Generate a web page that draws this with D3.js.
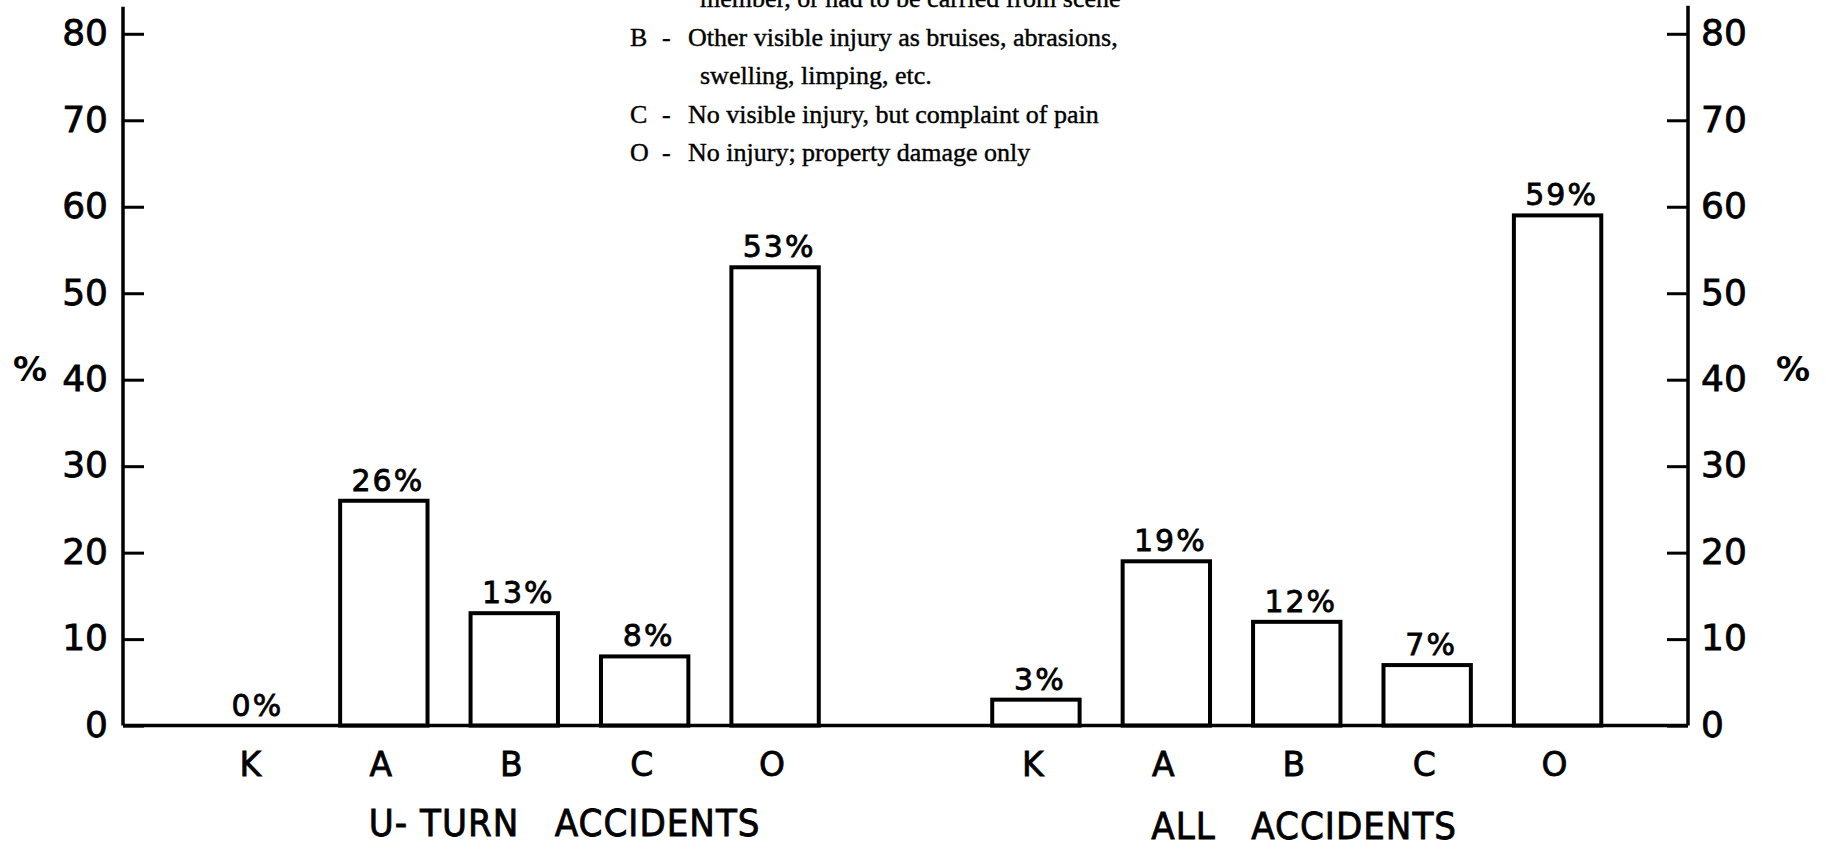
<!DOCTYPE html>
<html>
<head>
<meta charset="utf-8">
<script src="https://cdn.jsdelivr.net/npm/d3@7"></script>
<style>
  body { margin: 0; background: #fff; }
  svg { display: block; }
  .tick text { font-family: "DejaVu Sans", sans-serif; }
</style>
</head>
<body>
<svg id="chart" width="1829" height="846"></svg>
<script>
// injury class per accident group (percent)
var categories = ["K", "A", "B", "C", "O"];
var uturnValues = [0, 26, 13, 8, 53];
var allValues = [3, 19, 12, 7, 59];
var yTicks = [0, 10, 20, 30, 40, 50, 60, 70, 80];
var groupTitles = ["U- TURN   ACCIDENTS", "ALL   ACCIDENTS"];
var legendLines = [
  {key: "",  text: "member, or had to be carried from scene", indent: true},
  {key: "B", text: "Other visible injury as bruises, abrasions,", indent: false},
  {key: "",  text: "swelling, limping, etc.", indent: true},
  {key: "C", text: "No visible injury, but complaint of pain", indent: false},
  {key: "O", text: "No injury; property damage only", indent: false}
];

var svg = d3.select("#chart");

// 11 slots: 5 u-turn bars, one empty slot, 5 all-accident bars
var slots = categories.map(function(c) { return "u" + c; })
  .concat(["gap"])
  .concat(categories.map(function(c) { return "a" + c; }));

var x = d3.scalePoint().domain(slots).range([123, 1688]).padding(1);
var y = d3.scaleLinear().domain([0, 80]).range([725.6, 33.8]);
var barW = x.step() * 0.67;

var bars = categories.map(function(c, i) { return {slot: "u" + c, cat: c, val: uturnValues[i]}; })
  .concat(categories.map(function(c, i) { return {slot: "a" + c, cat: c, val: allValues[i]}; }));

// axes
var yLeft = d3.axisLeft(y).tickValues(yTicks).tickSize(-21).tickPadding(15);
var yRight = d3.axisRight(y).tickValues(yTicks).tickSize(-21).tickPadding(13);

var gl = svg.append("g").attr("transform", "translate(" + x.range()[0] + ",0)").call(yLeft);
var gr = svg.append("g").attr("transform", "translate(" + x.range()[1] + ",0)").call(yRight);
[gl, gr].forEach(function(g) {
  g.select(".domain").remove();
  g.selectAll(".tick line").attr("stroke", "#000").attr("stroke-width", 3);
  g.selectAll(".tick text").attr("fill", "#000").style("font-size", "36px")
    .style("stroke", "#000").style("stroke-width", 0.8).attr("dy", "0.3em");
});

// axis lines + baseline
svg.append("line")
  .attr("x1", x.range()[0]).attr("x2", x.range()[0])
  .attr("y1", y.range()[1] - 27).attr("y2", y(0))
  .attr("stroke", "#000").attr("stroke-width", 3.5);
svg.append("line")
  .attr("x1", x.range()[1]).attr("x2", x.range()[1])
  .attr("y1", y.range()[1] - 28).attr("y2", y(0))
  .attr("stroke", "#000").attr("stroke-width", 3.5);

// bars
svg.selectAll(".bar")
  .data(bars.filter(function(d) { return d.val > 0; }))
  .enter().append("rect")
  .attr("class", "bar")
  .attr("x", function(d) { return x(d.slot) - barW / 2; })
  .attr("y", function(d) { return y(d.val); })
  .attr("width", barW)
  .attr("height", function(d) { return y(0) - y(d.val); })
  .attr("fill", "#fff")
  .attr("stroke", "#000")
  .attr("stroke-width", 4);

svg.append("line")
  .attr("x1", x.range()[0]).attr("x2", x.range()[1])
  .attr("y1", y(0)).attr("y2", y(0))
  .attr("stroke", "#000").attr("stroke-width", 3.5);

// value labels
svg.selectAll(".val")
  .data(bars)
  .enter().append("text")
  .attr("class", "val")
  .attr("x", function(d) { return x(d.slot) + 4; })
  .attr("y", function(d) { return y(d.val) - 10; })
  .attr("text-anchor", "middle")
  .style("font-family", "DejaVu Sans, sans-serif")
  .style("font-size", "30px")
  .style("letter-spacing", "2px")
  .style("stroke", "#000").style("stroke-width", 0.8)
  .text(function(d) { return d.val + "%"; });

// category labels
svg.selectAll(".cat")
  .data(bars)
  .enter().append("text")
  .attr("class", "cat")
  .attr("x", function(d) { return x(d.slot) - 3; })
  .attr("y", y(0) + 50)
  .attr("text-anchor", "middle")
  .style("font-family", "DejaVu Sans, sans-serif")
  .style("font-size", "33px")
  .style("stroke", "#000").style("stroke-width", 0.8)
  .text(function(d) { return d.cat; });

// group titles
svg.selectAll(".title")
  .data(groupTitles)
  .enter().append("text")
  .attr("class", "title")
  .attr("x", function(d, i) { return x((i === 0 ? "u" : "a") + "A") - 15; })
  .attr("y", function(d, i) { return i === 0 ? 836 : 839; })
  .style("font-family", "'Liberation Sans Narrow', 'DejaVu Sans Condensed', sans-serif")
  .style("font-size", "38px")
  .style("white-space", "pre")
  .style("letter-spacing", "1px")
  .style("stroke", "#000").style("stroke-width", 0.8)
  .text(function(d) { return d; });

// percent signs beside the axes
svg.append("text").attr("x", 30).attr("y", 381).attr("text-anchor", "middle")
  .style("font-family", "DejaVu Sans, sans-serif").style("font-size", "34px").style("font-weight", "bold")
  .text("%");
svg.append("text").attr("x", 1793).attr("y", 381).attr("text-anchor", "middle")
  .style("font-family", "DejaVu Sans, sans-serif").style("font-size", "34px").style("font-weight", "bold")
  .text("%");

// legend (top part is cut off in the original scan)
var lg = svg.append("g").style("font-family", "'Liberation Serif', serif").style("font-size", "26px")
  .style("stroke", "#000").style("stroke-width", 0.4);
legendLines.forEach(function(l, i) {
  var yy = 7 + i * 38.5;
  if (l.key) {
    lg.append("text").attr("x", 630).attr("y", yy).text(l.key);
    lg.append("text").attr("x", 662).attr("y", yy).text("-");
  }
  lg.append("text").attr("x", l.indent ? 700 : 688).attr("y", yy).text(l.text);
});
</script>
</body>
</html>
